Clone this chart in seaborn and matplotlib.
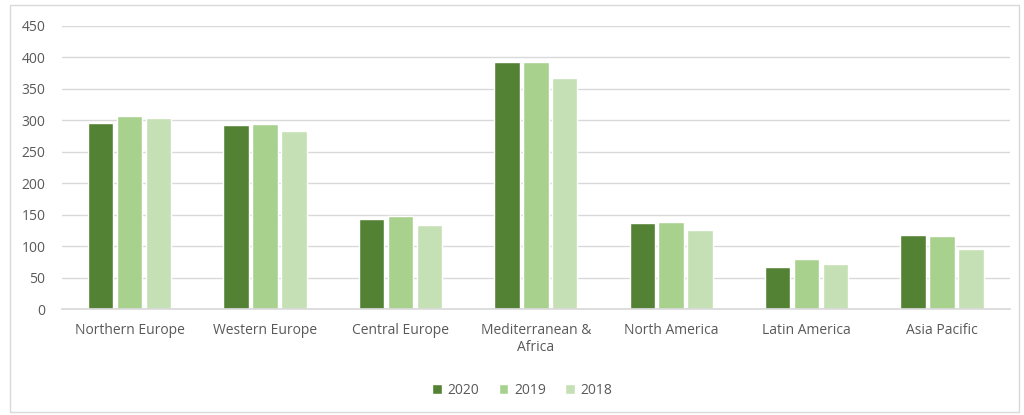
import matplotlib
matplotlib.use("Agg")
import matplotlib.pyplot as plt
import seaborn as sns
import pandas as pd
from matplotlib.patches import Rectangle

categories = ["Northern Europe", "Western Europe", "Central Europe", "Mediterranean &\nAfrica",
              "North America", "Latin America", "Asia Pacific"]
years = ["2020", "2019", "2018"]
v2020 = [296, 292, 143, 392, 136, 66, 118]
v2019 = [307, 294, 148, 392, 138, 80, 116]
v2018 = [303, 283, 134, 367, 125, 71, 96]
colors = ["#548235", "#A9D18E", "#C5E0B4"]

rows = []
for y, vals in zip(years, [v2020, v2019, v2018]):
    for c, v in zip(categories, vals):
        rows.append({"Region": c, "Year": y, "Value": v})
df = pd.DataFrame(rows)

sns.set_theme(style="white")
plt.rcParams['font.family'] = ['Open Sans', 'DejaVu Sans']
fig = plt.figure(figsize=(10.24, 4.15), dpi=100)
ax = fig.add_axes([0.0605, 0.2554, 0.9255, 0.682])
sns.barplot(data=df, x="Region", y="Value", hue="Year", hue_order=years, order=categories,
            palette=colors, width=0.64, gap=0.12, ax=ax, legend=True, saturation=1)
ax.set_ylim(0, 450)
ax.set_yticks(range(0, 451, 50))
ax.yaxis.grid(True, color="#D9D9D9", linewidth=1)
ax.set_axisbelow(True)
for s in ["top", "right", "left"]:
    ax.spines[s].set_visible(False)
ax.spines["bottom"].set_color("#D9D9D9")
ax.set_xlabel("")
ax.set_ylabel("")
ax.tick_params(axis="both", length=0, labelsize=10, colors="#595959")
ax.tick_params(axis="x", pad=10)
ax.tick_params(axis="y", pad=12)
ax.set_xlim(-0.5, 6.5)
ax.legend_.remove()
handles, labels = ax.get_legend_handles_labels()
fig.legend(handles[:3], labels[:3], loc="center", bbox_to_anchor=(0.51, 0.06), ncol=3,
           frameon=False, fontsize=10, handlelength=0.7, handleheight=0.7, handletextpad=0.4,
           columnspacing=1.4, labelcolor="#595959")
fig.patches.append(Rectangle((0.01, 0.008), 0.985, 0.98, transform=fig.transFigure,
                             fill=False, edgecolor="#D9D9D9", linewidth=1))
fig.savefig("out.png", dpi=100)
